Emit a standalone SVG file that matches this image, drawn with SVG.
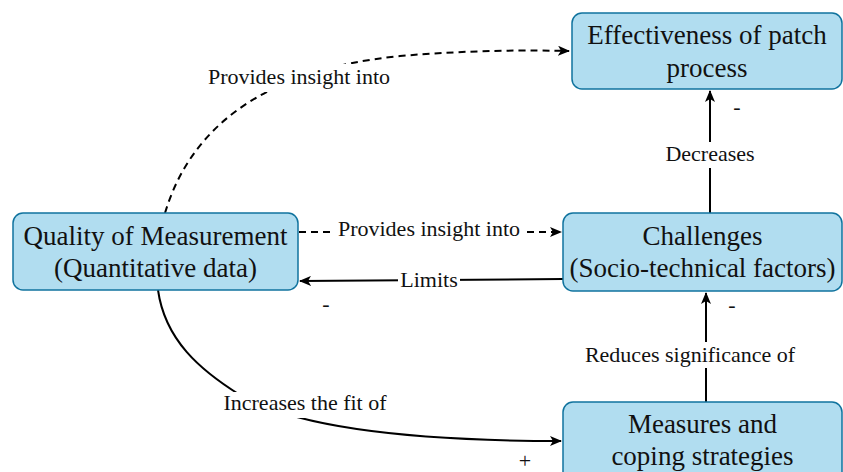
<svg xmlns="http://www.w3.org/2000/svg" width="843" height="472" viewBox="0 0 843 472">
<style>
.box{fill:#b1ddf0;stroke:#10739e;stroke-width:1.5}
.t{font-family:"Liberation Serif","Times New Roman",serif;font-size:27px;fill:#111;text-anchor:middle}
.l{font-family:"Liberation Serif","Times New Roman",serif;font-size:22px;fill:#111;text-anchor:middle}
.e{fill:none;stroke:#000;stroke-width:2}
.d{stroke-dasharray:7 5}
.bg{fill:#fff}
</style>
<defs>
<marker id="arr" viewBox="0 0 12 10" refX="11" refY="5" markerWidth="12" markerHeight="10" markerUnits="userSpaceOnUse" orient="auto">
<path d="M0,0 L12,5 L0,10 L3,5 Z" fill="#000"/>
</marker>
</defs>
<g id="connectors">
<path class="e d" d="M165,213 C190,130 260,70 400,56 C470,50 530,50 569,51" marker-end="url(#arr)"/>
<rect class="bg" x="204" y="64" width="190" height="28"/>
<text class="l" x="299" y="84">Provides insight into</text>
<path class="e d" d="M299,232 L561,232" marker-end="url(#arr)"/>
<rect class="bg" x="334" y="218" width="190" height="26"/>
<text class="l" x="429" y="236">Provides insight into</text>
<path class="e" d="M563,279 L300,281" marker-end="url(#arr)"/>
<rect class="bg" x="398" y="270" width="62" height="22"/>
<text class="l" x="429" y="287">Limits</text>
<text class="l" x="326" y="311">-</text>
<path class="e" d="M710,213 L710,91" marker-end="url(#arr)"/>
<rect class="bg" x="660" y="142" width="100" height="26"/>
<text class="l" x="710" y="161">Decreases</text>
<text class="l" x="737" y="114">-</text>
<path class="e" d="M706,402 L706,293" marker-end="url(#arr)"/>
<rect class="bg" x="580" y="342" width="220" height="26"/>
<text class="l" x="690" y="362">Reduces significance of</text>
<text class="l" x="732" y="312">-</text>
<path class="e" d="M158,290 C165,340 200,370 240,395 C300,430 420,441 561,441" marker-end="url(#arr)"/>
<rect class="bg" x="218" y="392" width="174" height="26"/>
<text class="l" x="305" y="410">Increases the fit of</text>
<text class="l" x="525" y="468" font-size="20">+</text>
</g>
<g id="effectiveness">
<rect class="box" x="572" y="13" width="270" height="76" rx="10"/>
<text class="t" x="707" y="44">Effectiveness of patch</text>
<text class="t" x="707" y="77">process</text>
</g>
<g id="quality">
<rect class="box" x="13" y="213" width="285" height="77" rx="10"/>
<text class="t" x="155.5" y="245">Quality of Measurement</text>
<text class="t" x="155.5" y="277">(Quantitative data)</text>
</g>
<g id="challenges">
<rect class="box" x="563" y="213" width="279" height="78" rx="10"/>
<text class="t" x="702.5" y="245">Challenges</text>
<text class="t" x="702.5" y="277">(Socio-technical factors)</text>
</g>
<g id="measures">
<rect class="box" x="563" y="402" width="279" height="82" rx="10"/>
<text class="t" x="702.5" y="433">Measures and</text>
<text class="t" x="702.5" y="465">coping strategies</text>
</g>
</svg>
